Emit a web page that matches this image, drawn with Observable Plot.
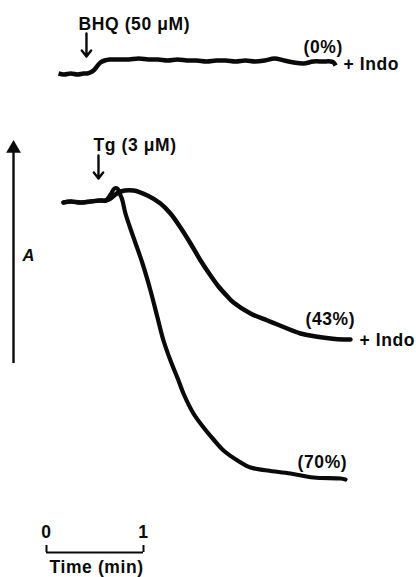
<!DOCTYPE html>
<html>
<head>
<meta charset="utf-8">
<script src="https://cdn.jsdelivr.net/npm/d3@7"></script>
<script src="https://cdn.jsdelivr.net/npm/@observablehq/plot@0.6"></script>
<style>
  html, body { margin: 0; padding: 0; background: #fff; }
  svg text { letter-spacing: 0.6px; }
</style>
</head>
<body>
<div id="chart"></div>
<script>
// Time in minutes, signal A in arbitrary units (bottom baseline = 0)
const bhqTime = [0.124,0.18,0.25,0.32,0.38,0.42,0.45,0.485,0.52,0.557,0.6,0.65,0.75,0.85,0.95,1.05,1.15,1.25,1.35,1.45,1.55,1.65,1.75,1.85,1.95,2.05,2.15,2.25,2.35,2.45,2.55,2.65,2.75,2.85,2.93,2.96,2.98];
const bhqA    = [128,127,128,127,128,128,129,131,135,139,141,142,142,142,143,142,142,141,142,141,141,140,141,141,140,141,140,141,143,141,139,138,140,140,140,139,136];

const tgTime = [0.175,0.25,0.35,0.45,0.55,0.61,0.66,0.70,0.73,0.75,0.78,0.814,0.897,0.99,1.072,1.144,1.206,1.278,1.361,1.412,1.515,1.619,1.722,1.825,1.969,2.103,2.278,2.515,2.753,3.031,3.082];
const tgA    = [-1,0,-1,0,1,1,7,13,13,9,2,-12,-36,-62,-89,-116,-139,-159,-179,-192,-212,-226,-238,-249,-259,-266,-269,-272,-276,-277,-278];

const tgIndoTime = [0.175,0.25,0.35,0.45,0.55,0.61,0.66,0.71,0.763,0.897,1.041,1.175,1.278,1.381,1.485,1.588,1.691,1.773,1.866,1.928,2.103,2.278,2.381,2.619,2.773,2.928,3.062,3.134];
const tgIndoA    = [-1,0,-1,0,1,1,3,7,10,11,6,-2,-12,-26,-42,-59,-74,-85,-95,-101,-112,-119,-123,-132,-135,-137,-138,-138];

const labelText = ["BHQ (50 μM)", "(0%)", "+ Indo", "Tg (3 μM)", "(43%)", "+ Indo", "(70%)", "Time (min)"];
const labelTime = [0.330, 2.649, 3.062, 0.485, 2.670, 3.227, 2.588, 0.031];
const labelA    = [172, 149, 132, 51, -123, -144, -266, -371];

const scaleTicks = [0, 1];
const scaleBarA = -351;

const arrowTime = [0.412, 0.536];
const arrowFrom = [168, 46];
const arrowTo   = [145, 23];

const axisTime = -0.34;
const axisFrom = -162, axisTo = 59;

const mk = (ts, as) => ts.map((t, i) => ({t, a: as[i]}));
const bhq = mk(bhqTime, bhqA);
const tg = mk(tgTime, tgA);
const tgIndo = mk(tgIndoTime, tgIndoA);
const labels = labelText.map((s, i) => ({s, t: labelTime[i], a: labelA[i]}));
const arrows = arrowTime.map((t, i) => ({t, a1: arrowFrom[i], a2: arrowTo[i]}));

const font = "'Liberation Sans', Arial, Helvetica, sans-serif";
const ink = "#0a0a0a";

const chart = Plot.plot({
  width: 416,
  height: 577,
  margin: 0,
  x: {domain: [-0.4742, 3.8144], axis: null},
  y: {domain: [-376, 201], axis: null},
  style: {fontFamily: font, background: "#fff"},
  marks: [
    Plot.line(bhq, {x: "t", y: "a", stroke: ink, strokeWidth: 4.5, curve: "catmull-rom", strokeLinecap: "butt"}),
    Plot.line(tg, {x: "t", y: "a", stroke: ink, strokeWidth: 4.2, curve: "catmull-rom"}),
    Plot.line(tgIndo, {x: "t", y: "a", stroke: ink, strokeWidth: 4.5, curve: "catmull-rom"}),
    Plot.arrow(arrows, {x: "t", y1: "a1", y2: "a2", stroke: ink, strokeWidth: 2.4, headLength: 10, headAngle: 75}),
    Plot.ruleX([axisTime], {y1: axisFrom, y2: axisTo - 8, stroke: ink, strokeWidth: 2.4}),
    Plot.dot([axisTime], {x: d => d, y: axisTo - 6, symbol: "triangle", r: 5.5, fill: ink, stroke: null}),
    Plot.text(labels, {x: "t", y: "a", text: "s", textAnchor: "start", lineAnchor: "bottom", fontSize: 17.5, fontWeight: "bold", fill: ink}),
    Plot.text(["A"], {x: -0.247, y: -59, text: d => d, textAnchor: "start", lineAnchor: "bottom", fontSize: 16.5, fontStyle: "italic", fontWeight: "bold", fill: ink}),
    Plot.text(scaleTicks, {x: d => d, y: -336, text: d => String(d), textAnchor: "middle", lineAnchor: "bottom", fontSize: 17.5, fontWeight: "bold", fill: ink}),
    Plot.ruleY([scaleBarA], {x1: scaleTicks[0], x2: scaleTicks[1], stroke: ink, strokeWidth: 2}),
    Plot.ruleX(scaleTicks, {y1: scaleBarA, y2: scaleBarA + 7, stroke: ink, strokeWidth: 2})
  ]
});
document.getElementById("chart").appendChild(chart);
</script>
</body>
</html>
